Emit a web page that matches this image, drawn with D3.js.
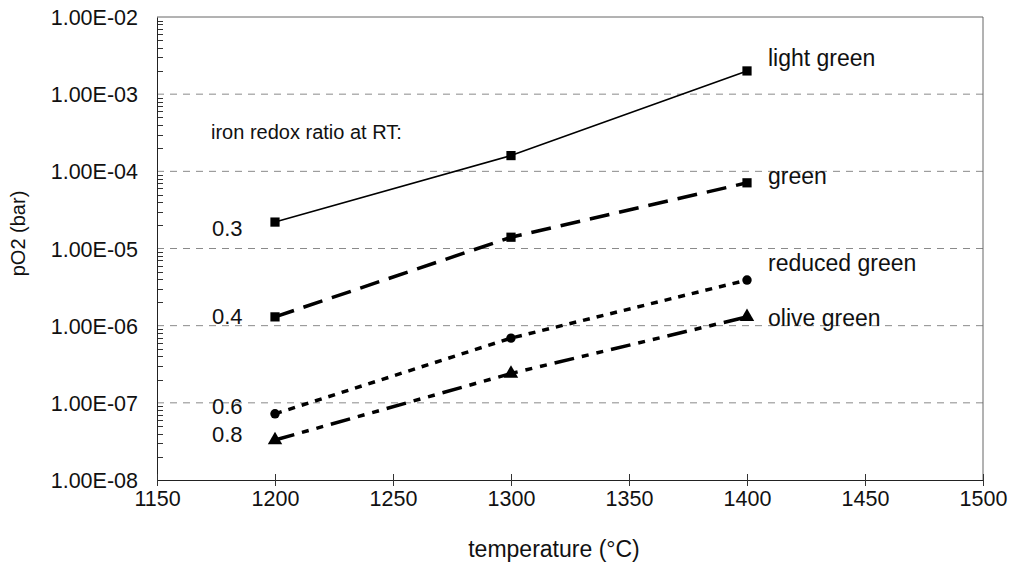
<!DOCTYPE html>
<html>
<head>
<meta charset="utf-8">
<script src="https://cdn.jsdelivr.net/npm/d3@7"></script>
<style>
  body { margin: 0; background: #fff; }
  svg text { font-family: "Liberation Sans", Arial, sans-serif; fill: #111; }
</style>
</head>
<body>
<svg id="chart" width="1014" height="570"></svg>
<script>
// temperatures (°C)
var temps = [1200, 1300, 1400];
// pO2 (bar) per glass colour
var lightGreen   = [2.2e-5, 1.6e-4, 2.0e-3];
var green        = [1.3e-6, 1.4e-5, 7.1e-5];
var reducedGreen = [7.2e-8, 6.9e-7, 3.9e-6];
var oliveGreen   = [3.3e-8, 2.4e-7, 1.3e-6];

var seriesNames  = ["light green", "green", "reduced green", "olive green"];
var redoxLabels  = ["0.3", "0.4", "0.6", "0.8"];
var xTicks = [1150, 1200, 1250, 1300, 1350, 1400, 1450, 1500];
var yTicks = [1e-8, 1e-7, 1e-6, 1e-5, 1e-4, 1e-3, 1e-2];

var margin = {top: 17, right: 30, bottom: 90, left: 157}
    , width = 1014 - margin.left - margin.right
    , height = 570 - margin.top - margin.bottom;

var svg = d3.select("#chart")
    .append("g")
    .attr("transform", "translate(" + margin.left + "," + margin.top + ")");

var xScale = d3.scaleLinear().domain([1150, 1500]).range([0, 826]);
var yScale = d3.scaleLog().domain([1e-8, 1e-2]).range([463, 0]);

// grid lines at each decade
svg.selectAll(".grid")
    .data(yTicks.filter(function (d) { return d > 1e-8 && d < 1e-2; }))
    .enter().append("line")
    .attr("x1", 0).attr("x2", 826)
    .attr("y1", function (d) { return yScale(d); })
    .attr("y2", function (d) { return yScale(d); })
    .attr("stroke", "#8a8a8a")
    .attr("stroke-width", 1)
    .attr("stroke-dasharray", "7,6");

// frame top and right
svg.append("line").attr("x1", 0).attr("x2", 826).attr("y1", 0).attr("y2", 0)
    .attr("stroke", "#666").attr("stroke-width", 1);
svg.append("line").attr("x1", 826).attr("x2", 826).attr("y1", 0).attr("y2", 463)
    .attr("stroke", "#666").attr("stroke-width", 1);

// inward minor ticks on the log axis
var minor = [];
yTicks.slice(0, -1).forEach(function (d) {
    for (var k = 2; k < 10; k++) minor.push(d * k);
});
svg.selectAll(".minor")
    .data(minor)
    .enter().append("line")
    .attr("class", "minor")
    .attr("x1", 0).attr("x2", 6)
    .attr("y1", function (d) { return Math.round(yScale(d)) + 0.5; })
    .attr("y2", function (d) { return Math.round(yScale(d)) + 0.5; })
    .attr("stroke", "#333")
    .attr("stroke-width", 1);

var yAxis = svg.append("g")
    .call(d3.axisLeft(yScale).tickValues(yTicks).tickSize(0).tickPadding(19)
        .tickFormat(function (d) {
            var e = Math.round(Math.log10(d));
            return "1.00E" + (e < 0 ? "-" : "+") + String(Math.abs(e)).padStart(2, "0");
        }));
yAxis.select(".domain").attr("stroke", "#222");
yAxis.selectAll("text").attr("font-size", "21.5px").attr("fill", "#111").attr("dy", "0.35em");

// x axis with crossing ticks
var xAxis = svg.append("g")
    .attr("transform", "translate(0," + height + ")")
    .call(d3.axisBottom(xScale).tickValues(xTicks).tickSize(5).tickPadding(6).tickFormat(d3.format("d")));
xAxis.select(".domain").attr("stroke", "#222");
xAxis.selectAll("line").attr("y1", -6).attr("y2", 6).attr("stroke", "#333");
xAxis.selectAll("text").attr("font-size", "21.5px").attr("fill", "#111");

// axis titles
svg.append("text")
    .attr("transform", "rotate(-90)")
    .attr("x", -height / 2 + 15)
    .attr("y", -132)
    .attr("font-size", "20px")
    .style("text-anchor", "middle")
    .text("pO2 (bar)");

svg.append("text")
    .attr("x", xScale(1325) - 16)
    .attr("y", height + 77)
    .attr("font-size", "23px")
    .style("text-anchor", "middle")
    .text("temperature (°C)");

// series
var allSeries = [lightGreen, green, reducedGreen, oliveGreen];
var dashes = ["none", "20,10", "7,7", "20,8,7,8,7,8"];
var widths = [1.6, 3.5, 3.5, 3.5];
var markers = [d3.symbolSquare, d3.symbolSquare, d3.symbolCircle, d3.symbolTriangle];
var markerSizes = [85, 85, 70, 90];

var line = d3.line()
    .x(function (d) { return xScale(d[0]); })
    .y(function (d) { return yScale(d[1]); });

allSeries.forEach(function (vals, i) {
    var pts = temps.map(function (t, j) { return [t, vals[j]]; });
    svg.append("path")
        .datum(pts)
        .attr("fill", "none")
        .attr("stroke", "#000")
        .attr("stroke-width", widths[i])
        .attr("stroke-dasharray", dashes[i])
        .attr("d", line);
    svg.selectAll(".m" + i)
        .data(pts)
        .enter().append("path")
        .attr("transform", function (d) { return "translate(" + xScale(d[0]) + "," + yScale(d[1]) + ")"; })
        .attr("d", d3.symbol().type(markers[i]).size(markerSizes[i]))
        .attr("fill", "#000");
    // colour label at right
    svg.append("text")
        .attr("x", xScale(1400) + 21)
        .attr("y", yScale(vals[2]) + [-5, 1, -9, 9][i])
        .attr("font-size", "23px")
        .text(seriesNames[i]);
    // redox ratio at left
    svg.append("text")
        .attr("x", xScale(1200) - 63)
        .attr("y", yScale(vals[0]) + [14, 7, 0, 2][i])
        .attr("font-size", "22px")
        .text(redoxLabels[i]);
});

svg.append("text")
    .attr("x", xScale(1200) - 64)
    .attr("y", 122)
    .attr("font-size", "20px")
    .text("iron redox ratio at RT:");
</script>
</body>
</html>
